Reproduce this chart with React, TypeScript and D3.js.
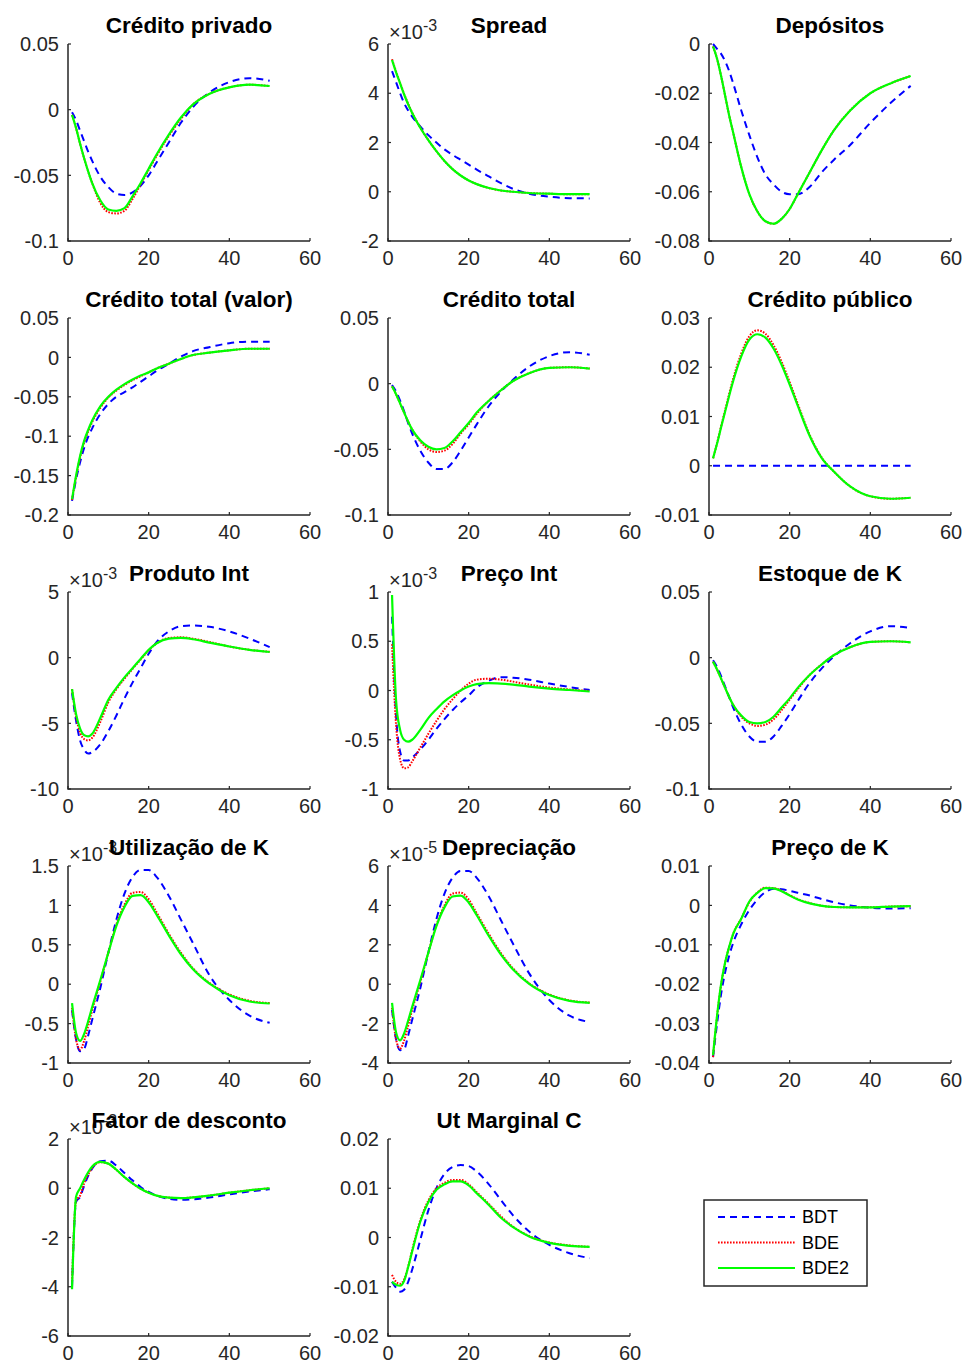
import React from "react";
import * as d3 from "d3";

const periods = [1, 2, 3, 4, 5, 6, 8, 10, 12, 14, 16, 18, 20, 22, 25, 28, 31, 35, 40, 45, 50];
const xTicks = [0, 20, 40, 60];
const seriesNames = ["BDT", "BDE", "BDE2"];

// Crédito privado
const creditoPrivadoBDT = [-0.002, -0.008, -0.016, -0.024, -0.032, -0.039, -0.051, -0.059, -0.064, -0.065, -0.063, -0.058, -0.05, -0.04, -0.025, -0.01, 0.002, 0.013, 0.021, 0.024, 0.022];
const creditoPrivadoBDE = [-0.004, -0.014, -0.026, -0.037, -0.047, -0.056, -0.071, -0.078, -0.079, -0.077, -0.068, -0.057, -0.046, -0.035, -0.02, -0.007, 0.004, 0.012, 0.017, 0.019, 0.018];
const creditoPrivadoBDE2 = [-0.004, -0.014, -0.026, -0.037, -0.047, -0.056, -0.069, -0.076, -0.077, -0.075, -0.066, -0.056, -0.045, -0.034, -0.019, -0.006, 0.004, 0.012, 0.017, 0.019, 0.018];
const creditoPrivadoTicks = [-0.1, -0.05, 0, 0.05];

// Spread (x 10^-3)
const spreadBDT = [4.9, 4.45, 4.0, 3.6, 3.3, 3.05, 2.65, 2.3, 2.0, 1.72, 1.5, 1.3, 1.1, 0.9, 0.62, 0.35, 0.12, -0.08, -0.2, -0.26, -0.27];
const spreadBDE = [5.38, 4.88, 4.42, 3.97, 3.57, 3.21, 2.61, 2.1, 1.65, 1.25, 0.92, 0.66, 0.46, 0.31, 0.15, 0.05, 0.0, -0.05, -0.08, -0.1, -0.1];
const spreadBDE2 = [5.35, 4.85, 4.4, 3.95, 3.55, 3.2, 2.6, 2.1, 1.65, 1.25, 0.92, 0.66, 0.46, 0.31, 0.15, 0.05, 0.0, -0.05, -0.08, -0.1, -0.1];
const spreadTicks = [-2, 0, 2, 4, 6];

// Depósitos
const depositosBDT = [0.0, -0.002, -0.004, -0.007, -0.011, -0.016, -0.027, -0.037, -0.046, -0.053, -0.057, -0.06, -0.061, -0.061, -0.058, -0.052, -0.047, -0.041, -0.032, -0.024, -0.017];
const depositosBDE = [-0.001, -0.006, -0.013, -0.021, -0.029, -0.036, -0.05, -0.061, -0.068, -0.072, -0.073, -0.071, -0.067, -0.061, -0.052, -0.043, -0.035, -0.027, -0.02, -0.016, -0.013];
const depositosBDE2 = [-0.001, -0.006, -0.013, -0.021, -0.029, -0.036, -0.05, -0.061, -0.068, -0.072, -0.073, -0.071, -0.067, -0.061, -0.052, -0.043, -0.035, -0.027, -0.02, -0.016, -0.013];
const depositosTicks = [-0.08, -0.06, -0.04, -0.02, 0];

// Crédito total (valor)
const creditoValorBDT = [-0.182, -0.155, -0.133, -0.115, -0.101, -0.09, -0.072, -0.059, -0.05, -0.044, -0.038, -0.031, -0.024, -0.017, -0.008, 0.001, 0.008, 0.013, 0.018, 0.02, 0.02];
const creditoValorBDE = [-0.181, -0.152, -0.127, -0.108, -0.094, -0.082, -0.064, -0.051, -0.042, -0.035, -0.029, -0.024, -0.019, -0.014, -0.008, -0.002, 0.003, 0.006, 0.009, 0.011, 0.011];
const creditoValorBDE2 = [-0.18, -0.15, -0.125, -0.106, -0.092, -0.08, -0.062, -0.05, -0.041, -0.034, -0.028, -0.023, -0.019, -0.014, -0.008, -0.002, 0.003, 0.006, 0.009, 0.011, 0.011];
const creditoValorTicks = [-0.2, -0.15, -0.1, -0.05, 0, 0.05];

// Crédito total
const creditoTotalBDT = [-0.001, -0.006, -0.013, -0.021, -0.03, -0.038, -0.051, -0.06, -0.065, -0.065, -0.06, -0.051, -0.041, -0.031, -0.017, -0.006, 0.003, 0.013, 0.021, 0.024, 0.022];
const creditoTotalBDE = [-0.002, -0.008, -0.015, -0.022, -0.029, -0.035, -0.044, -0.05, -0.052, -0.051, -0.046, -0.038, -0.031, -0.023, -0.013, -0.005, 0.002, 0.008, 0.012, 0.0125, 0.0115];
const creditoTotalBDE2 = [-0.002, -0.008, -0.015, -0.022, -0.029, -0.035, -0.043, -0.048, -0.05, -0.049, -0.044, -0.037, -0.03, -0.022, -0.013, -0.005, 0.002, 0.008, 0.012, 0.0125, 0.0115];
const creditoTotalTicks = [-0.1, -0.05, 0, 0.05];

// Crédito público
const creditoPublicoBDT = [0, 0, 0, 0, 0, 0, 0, 0, 0, 0, 0, 0, 0, 0, 0, 0, 0, 0, 0, 0, 0];
const creditoPublicoBDE = [0.0015, 0.0046, 0.008, 0.0113, 0.0146, 0.0177, 0.0228, 0.0263, 0.0275, 0.0268, 0.0245, 0.0211, 0.017, 0.0126, 0.0062, 0.0016, -0.0012, -0.0042, -0.0062, -0.0067, -0.0065];
const creditoPublicoBDE2 = [0.0015, 0.0045, 0.0078, 0.011, 0.0142, 0.0172, 0.0222, 0.0256, 0.0267, 0.026, 0.0238, 0.0205, 0.0165, 0.0122, 0.006, 0.0015, -0.0012, -0.0042, -0.0062, -0.0067, -0.0065];
const creditoPublicoTicks = [-0.01, 0, 0.01, 0.02, 0.03];

// Produto Int (x 10^-3)
const produtoBDT = [-2.7, -4.8, -6.3, -7.0, -7.3, -7.2, -6.6, -5.6, -4.4, -3.1, -1.9, -0.8, 0.3, 1.2, 2.0, 2.4, 2.45, 2.35, 2.0, 1.45, 0.8];
const produtoBDE = [-2.4, -4.5, -5.7, -6.2, -6.3, -6.1, -4.9, -3.4, -2.4, -1.6, -0.85, -0.15, 0.55, 1.1, 1.5, 1.55, 1.45, 1.2, 0.85, 0.6, 0.45];
const produtoBDE2 = [-2.4, -4.3, -5.4, -5.9, -6.0, -5.8, -4.6, -3.2, -2.3, -1.5, -0.8, -0.1, 0.6, 1.1, 1.45, 1.5, 1.4, 1.15, 0.85, 0.6, 0.43];
const produtoTicks = [-10, -5, 0, 5];

// Preço Int (x 10^-3)
const precoIntBDT = [0.75, -0.25, -0.62, -0.71, -0.71, -0.68, -0.6, -0.5, -0.39, -0.29, -0.2, -0.12, -0.05, 0.03, 0.1, 0.135, 0.13, 0.11, 0.07, 0.035, 0.005];
const precoIntBDE = [0.47, -0.35, -0.7, -0.79, -0.78, -0.72, -0.58, -0.44, -0.31, -0.19, -0.09, 0.0, 0.07, 0.11, 0.12, 0.11, 0.09, 0.06, 0.03, 0.01, -0.005];
const precoIntBDE2 = [0.97, -0.1, -0.4, -0.5, -0.52, -0.5, -0.4, -0.28, -0.19, -0.11, -0.05, 0.0, 0.04, 0.065, 0.075, 0.07, 0.06, 0.04, 0.02, 0.005, -0.01];
const precoIntTicks = [-1, -0.5, 0, 0.5, 1];

// Estoque de K
const estoqueBDT = [-0.002, -0.007, -0.014, -0.022, -0.03, -0.038, -0.051, -0.06, -0.064, -0.064, -0.06, -0.052, -0.043, -0.033, -0.019, -0.008, 0.001, 0.011, 0.02, 0.024, 0.0226];
const estoqueBDE = [-0.003, -0.009, -0.016, -0.023, -0.03, -0.036, -0.045, -0.05, -0.052, -0.051, -0.047, -0.04, -0.032, -0.024, -0.013, -0.005, 0.002, 0.008, 0.012, 0.0125, 0.0117];
const estoqueBDE2 = [-0.003, -0.009, -0.016, -0.023, -0.03, -0.036, -0.044, -0.049, -0.05, -0.049, -0.045, -0.038, -0.031, -0.023, -0.013, -0.005, 0.002, 0.008, 0.012, 0.0125, 0.0117];
const estoqueTicks = [-0.1, -0.05, 0, 0.05];

// Utilização de K (x 10^-3)
const utilizacaoBDT = [-0.33, -0.7, -0.85, -0.82, -0.65, -0.45, -0.05, 0.4, 0.82, 1.15, 1.36, 1.45, 1.45, 1.36, 1.12, 0.82, 0.52, 0.12, -0.2, -0.4, -0.49];
const utilizacaoBDE = [-0.3, -0.7, -0.83, -0.72, -0.53, -0.33, 0.03, 0.4, 0.76, 1.01, 1.16, 1.17, 1.08, 0.91, 0.64, 0.4, 0.2, 0.02, -0.13, -0.21, -0.24];
const utilizacaoBDE2 = [-0.24, -0.62, -0.72, -0.63, -0.47, -0.29, 0.05, 0.4, 0.74, 0.98, 1.12, 1.13, 1.04, 0.88, 0.62, 0.38, 0.19, 0.01, -0.14, -0.22, -0.245];
const utilizacaoTicks = [-1, -0.5, 0, 0.5, 1, 1.5];

// Depreciação (x 10^-5)
const depreciacaoBDT = [-1.3, -2.8, -3.35, -3.3, -2.6, -1.8, -0.2, 1.6, 3.3, 4.6, 5.4, 5.75, 5.75, 5.4, 4.45, 3.25, 2.05, 0.55, -0.8, -1.6, -1.92];
const depreciacaoBDE = [-1.2, -2.8, -3.27, -2.85, -2.1, -1.3, 0.1, 1.6, 3.0, 4.0, 4.6, 4.65, 4.3, 3.6, 2.55, 1.58, 0.8, 0.05, -0.52, -0.82, -0.93];
const depreciacaoBDE2 = [-0.95, -2.45, -2.85, -2.5, -1.85, -1.15, 0.2, 1.6, 2.95, 3.9, 4.45, 4.5, 4.15, 3.5, 2.45, 1.5, 0.75, 0.02, -0.55, -0.85, -0.95];
const depreciacaoTicks = [-4, -2, 0, 2, 4, 6];

// Preço de K
const precoKBDT = [-0.0385, -0.03, -0.0225, -0.017, -0.0128, -0.0095, -0.0048, -0.0012, 0.0015, 0.0034, 0.0042, 0.0041, 0.0037, 0.0032, 0.0025, 0.0016, 0.0008, 0.0, -0.0006, -0.0008, -0.0007];
const precoKBDE = [-0.0385, -0.0282, -0.0202, -0.0146, -0.0105, -0.0072, -0.0033, 0.0008, 0.0033, 0.0045, 0.0044, 0.0037, 0.0026, 0.0016, 0.0006, -0.0001, -0.0004, -0.0005, -0.0005, -0.0003, -0.0002];
const precoKBDE2 = [-0.038, -0.028, -0.02, -0.0145, -0.0105, -0.0072, -0.0034, 0.001, 0.0032, 0.0044, 0.0043, 0.0036, 0.0025, 0.0015, 0.0005, -0.0001, -0.0004, -0.0005, -0.0005, -0.0003, -0.0002];
const precoKTicks = [-0.04, -0.03, -0.02, -0.01, 0, 0.01];

// Fator de desconto (x 10^-3)
const fatorBDT = [-4.0, -0.55, -0.35, 0.1, 0.5, 0.8, 1.1, 1.12, 0.92, 0.62, 0.32, 0.05, -0.15, -0.3, -0.43, -0.47, -0.45, -0.38, -0.25, -0.13, -0.04];
const fatorBDE = [-3.8, -0.5, -0.3, 0.2, 0.55, 0.83, 1.06, 1.0, 0.75, 0.45, 0.2, -0.02, -0.18, -0.3, -0.38, -0.4, -0.37, -0.3, -0.18, -0.08, 0.0];
const fatorBDE2 = [-4.1, -0.35, 0.0, 0.35, 0.65, 0.88, 1.07, 1.0, 0.75, 0.45, 0.2, -0.02, -0.18, -0.3, -0.38, -0.4, -0.37, -0.3, -0.18, -0.08, 0.0];
const fatorTicks = [-6, -4, -2, 0, 2];

// Ut Marginal C
const utMargBDT = [-0.009, -0.0102, -0.011, -0.0106, -0.009, -0.0065, -0.0005, 0.0055, 0.01, 0.0129, 0.0143, 0.0147, 0.0145, 0.0134, 0.0108, 0.0076, 0.0045, 0.0012, -0.0015, -0.0032, -0.0042];
const utMargBDE = [-0.0076, -0.009, -0.0094, -0.0085, -0.0059, -0.0025, 0.0035, 0.0075, 0.01, 0.0111, 0.0117, 0.0117, 0.0108, 0.0092, 0.0068, 0.0043, 0.0022, 0.0003, -0.001, -0.0016, -0.0019];
const utMargBDE2 = [-0.009, -0.0096, -0.0098, -0.0088, -0.006, -0.0028, 0.0032, 0.0072, 0.0097, 0.0108, 0.0114, 0.0114, 0.0106, 0.009, 0.0066, 0.004, 0.0021, 0.0002, -0.0011, -0.0017, -0.0019];
const utMargTicks = [-0.02, -0.01, 0, 0.01, 0.02];

type Panel = { title: string; exp?: string; ticks: number[]; series: number[][] };

const panels: Panel[] = [
  { title: "Crédito privado", ticks: creditoPrivadoTicks, series: [creditoPrivadoBDT, creditoPrivadoBDE, creditoPrivadoBDE2] },
  { title: "Spread", exp: "-3", ticks: spreadTicks, series: [spreadBDT, spreadBDE, spreadBDE2] },
  { title: "Depósitos", ticks: depositosTicks, series: [depositosBDT, depositosBDE, depositosBDE2] },
  { title: "Crédito total (valor)", ticks: creditoValorTicks, series: [creditoValorBDT, creditoValorBDE, creditoValorBDE2] },
  { title: "Crédito total", ticks: creditoTotalTicks, series: [creditoTotalBDT, creditoTotalBDE, creditoTotalBDE2] },
  { title: "Crédito público", ticks: creditoPublicoTicks, series: [creditoPublicoBDT, creditoPublicoBDE, creditoPublicoBDE2] },
  { title: "Produto Int", exp: "-3", ticks: produtoTicks, series: [produtoBDT, produtoBDE, produtoBDE2] },
  { title: "Preço Int", exp: "-3", ticks: precoIntTicks, series: [precoIntBDT, precoIntBDE, precoIntBDE2] },
  { title: "Estoque de K", ticks: estoqueTicks, series: [estoqueBDT, estoqueBDE, estoqueBDE2] },
  { title: "Utilização de K", exp: "-3", ticks: utilizacaoTicks, series: [utilizacaoBDT, utilizacaoBDE, utilizacaoBDE2] },
  { title: "Depreciação", exp: "-5", ticks: depreciacaoTicks, series: [depreciacaoBDT, depreciacaoBDE, depreciacaoBDE2] },
  { title: "Preço de K", ticks: precoKTicks, series: [precoKBDT, precoKBDE, precoKBDE2] },
  { title: "Fator de desconto", exp: "-3", ticks: fatorTicks, series: [fatorBDT, fatorBDE, fatorBDE2] },
  { title: "Ut Marginal C", ticks: utMargTicks, series: [utMargBDT, utMargBDE, utMargBDE2] },
];

const COL_X = [68, 388, 709];
const ROW_Y = [44, 318, 592, 866, 1139];
const AX_W = 242;
const AX_H = 197;
const FONT = "'Liberation Sans', Arial, Helvetica, sans-serif";
const AXIS_COLOR = "#262626";

const STYLES = [
  { color: "#0000ff", dash: "7,5", width: 2 },
  { color: "#ff0000", dash: "1.6,1.4", width: 2 },
  { color: "#00ff00", dash: undefined, width: 2.2 },
];

const fmt = (v: number) => String(+v.toFixed(6));

const SubPlot = ({ p, i }: { p: Panel; i: number }) => {
  const x0 = COL_X[i % 3];
  const y0 = ROW_Y[Math.floor(i / 3)];
  const xScale = d3.scaleLinear().domain([0, 60]).range([0, AX_W]);
  const yScale = d3.scaleLinear().domain(d3.extent(p.ticks) as [number, number]).range([AX_H, 0]);
  const line = d3
    .line<number>()
    .x((_, j) => xScale(periods[j]))
    .y((d) => yScale(d))
    .curve(d3.curveMonotoneX);

  return (
    <g transform={`translate(${x0},${y0})`} fontFamily={FONT}>
      {p.series.map((s, k) => (
        <path
          key={k}
          d={line(s) || ""}
          fill="none"
          stroke={STYLES[k].color}
          strokeWidth={STYLES[k].width}
          strokeDasharray={STYLES[k].dash}
        />
      ))}
      <path d={`M0,0V${AX_H}H${AX_W}`} fill="none" stroke={AXIS_COLOR} strokeWidth={1.5} />
      {xTicks.map((t) => (
        <g key={"x" + t} transform={`translate(${xScale(t)},${AX_H})`}>
          <line y2={-3} stroke={AXIS_COLOR} strokeWidth={1.2} />
          <text y={24} textAnchor="middle" fontSize={20} fill={AXIS_COLOR}>
            {t}
          </text>
        </g>
      ))}
      {p.ticks.map((t) => (
        <g key={"y" + t} transform={`translate(0,${yScale(t)})`}>
          <line x2={3} stroke={AXIS_COLOR} strokeWidth={1.2} />
          <text x={-9} dy="0.36em" textAnchor="end" fontSize={20} fill={AXIS_COLOR}>
            {fmt(t)}
          </text>
        </g>
      ))}
      {p.exp && (
        <text x={1} y={-5} fontSize={20} fill={AXIS_COLOR}>
          ×10
          <tspan dy={-8} fontSize={16}>
            {p.exp}
          </tspan>
        </text>
      )}
      <text x={AX_W / 2} y={-11} textAnchor="middle" fontSize={22.5} fontWeight="bold" fill="#000">
        {p.title}
      </text>
    </g>
  );
};

const Legend = () => {
  const lx = 704;
  const ly = 1200;
  return (
    <g fontFamily={FONT}>
      <rect x={lx} y={ly} width={163} height={86} fill="#fff" stroke={AXIS_COLOR} strokeWidth={1.5} />
      {seriesNames.map((name, k) => (
        <g key={name} transform={`translate(${lx},${ly + 17 + k * 25.5})`}>
          <line
            x1={14}
            x2={91}
            stroke={STYLES[k].color}
            strokeWidth={STYLES[k].width}
            strokeDasharray={STYLES[k].dash}
          />
          <text x={98} dy="0.36em" fontSize={18} fill="#000">
            {name}
          </text>
        </g>
      ))}
    </g>
  );
};

export default function App() {
  return (
    <svg
      width={966}
      height={1362}
      style={{ position: "absolute", left: 0, top: 0, background: "#fff" }}
    >
      <rect width={966} height={1362} fill="#fff" />
      {panels.map((p, i) => (
        <SubPlot key={p.title} p={p} i={i} />
      ))}
      <Legend />
    </svg>
  );
}
